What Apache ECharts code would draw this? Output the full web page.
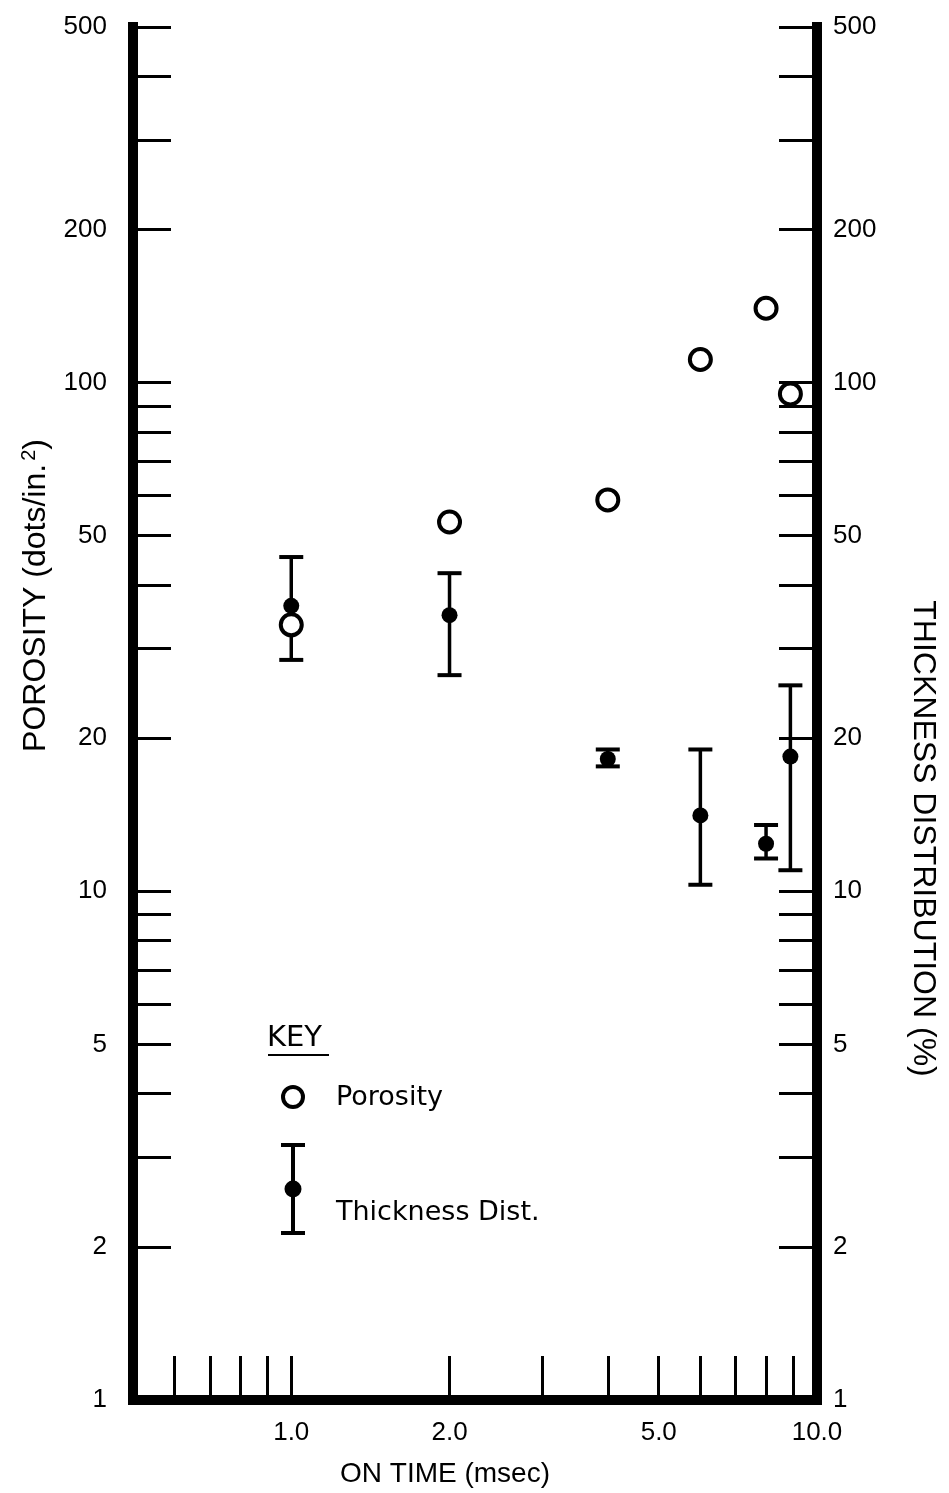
<!DOCTYPE html>
<html>
<head>
<meta charset="utf-8">
<script src="https://cdn.jsdelivr.net/npm/echarts@6.0.0/dist/echarts.min.js"></script>
<style>
  html, body { margin: 0; padding: 0; background: #fff; }
  #main { width: 949px; height: 1493px; }
</style>
</head>
<body>
<div id="main"></div>
<script type="text/javascript">
// values
var onTime = [1.0, 2.0, 4.0, 6.0, 8.0, 8.9];
var porosity = [33.4, 53.2, 58.8, 111, 140, 95];
var thickMean = [36.4, 34.9, 18.2, 14.1, 12.4, 18.4];
var thickLow = [28.5, 26.6, 17.6, 10.3, 11.6, 11.0];
var thickHigh = [45.4, 42.2, 19.0, 19.0, 13.5, 25.4];

// axis ticks and labels
var xTicks = [0.6, 0.7, 0.8, 0.9, 1, 2, 3, 4, 5, 6, 7, 8, 9];
var xLabels = [1, 2, 5, 10];
var yTicks = [2, 3, 4, 5, 6, 7, 8, 9, 10, 20, 30, 40, 50, 60, 70, 80, 90, 100, 200, 300, 400, 500];
var yLabels = [1, 2, 5, 10, 20, 50, 100, 200, 500];

var ink = '#000';
var numFont = 'Liberation Sans';

var myChart = echarts.init(document.getElementById('main'));

function yAxisOpt(pos) {
    return {
        type: 'log',
        logBase: 10,
        min: 1,
        max: 500,
        position: pos,
        splitLine: { show: false },
        axisLine: { show: true, lineStyle: { color: ink, width: 10, cap: 'square' } },
        axisTick: { show: true, inside: true, length: 38, customValues: yTicks, lineStyle: { color: ink, width: 3 } },
        axisLabel: {
            customValues: yLabels,
            margin: pos === 'left' ? 26 : 16,
            color: ink,
            fontFamily: numFont,
            fontSize: 26,
            formatter: function (v) { return String(Math.round(v)); }
        }
    };
}

// left axis: porosity
var left = yAxisOpt('left');
left.name = 'POROSITY (dots/in.{sup|2})';
left.nameLocation = 'middle';
left.nameGap = 80;
left.nameTextStyle = {
    color: ink, fontFamily: numFont, fontSize: 32,
    padding: [0, 0, 0, 236],
    rich: { sup: { fontFamily: numFont, fontSize: 20, verticalAlign: 'top', padding: [0, 0, 14, 3], color: ink } }
};

// right axis: thickness distribution
var right = yAxisOpt('right');
right.name = 'THICKNESS DISTRIBUTION (%)';
right.nameLocation = 'middle';
right.nameRotate = -90;
right.nameGap = 90;
right.nameTextStyle = {
    color: ink, fontFamily: numFont, fontSize: 32,
    padding: [0, 0, 0, 250]
};

var option = {
    backgroundColor: '#fff',
    animation: false,
    grid: { left: 133, right: 132, top: 27, bottom: 93 },
    xAxis: {
        type: 'log',
        logBase: 10,
        min: 0.5,
        max: 10,
        name: 'ON TIME (msec)',
        nameLocation: 'middle',
        nameGap: 60,
        nameTextStyle: { color: ink, fontFamily: numFont, fontSize: 28, padding: [0, 60, 0, 0] },
        splitLine: { show: false },
        axisLine: { show: true, lineStyle: { color: ink, width: 10, cap: 'square' } },
        axisTick: { show: true, inside: true, length: 44, customValues: xTicks, lineStyle: { color: ink, width: 3 } },
        axisLabel: {
            customValues: xLabels,
            margin: 20,
            color: ink,
            fontFamily: numFont,
            fontSize: 26,
            formatter: function (v) { return Number(v).toFixed(1); }
        }
    },
    yAxis: [left, right],
    // the KEY box
    graphic: [
        { type: 'text', left: 267, top: 1024, style: { text: 'KEY', fill: ink, font: '29px "DejaVu Sans"' } },
        { type: 'line', shape: { x1: 268, y1: 1055, x2: 329, y2: 1055 }, style: { stroke: ink, lineWidth: 2 } },
        { type: 'circle', shape: { cx: 293, cy: 1097, r: 10 }, style: { fill: '#fff', stroke: ink, lineWidth: 4 } },
        { type: 'text', left: 336, top: 1084, style: { text: 'Porosity', fill: ink, font: '27px "DejaVu Sans"' } },
        { type: 'line', shape: { x1: 293, y1: 1145, x2: 293, y2: 1233 }, style: { stroke: ink, lineWidth: 4 } },
        { type: 'line', shape: { x1: 281, y1: 1145, x2: 305, y2: 1145 }, style: { stroke: ink, lineWidth: 4 } },
        { type: 'line', shape: { x1: 281, y1: 1233, x2: 305, y2: 1233 }, style: { stroke: ink, lineWidth: 4 } },
        { type: 'circle', shape: { cx: 293, cy: 1189, r: 8.5 }, style: { fill: ink } },
        { type: 'text', left: 336, top: 1199, style: { text: 'Thickness Dist.', fill: ink, font: '27px "DejaVu Sans"' } }
    ],
    series: [
        {
            // error bars
            name: 'Thickness range',
            type: 'custom',
            xAxisIndex: 0,
            yAxisIndex: 1,
            z: 1,
            encode: { x: 0, y: [1, 2] },
            data: onTime.map(function (x, i) { return [x, thickLow[i], thickHigh[i]]; }),
            renderItem: function (params, api) {
                var x = api.value(0);
                var lo = api.coord([x, api.value(1)]);
                var hi = api.coord([x, api.value(2)]);
                var w = 12;
                return {
                    type: 'group',
                    children: [
                        { type: 'line', shape: { x1: lo[0], y1: lo[1], x2: hi[0], y2: hi[1] }, style: { stroke: ink, lineWidth: 3.5 } },
                        { type: 'line', shape: { x1: lo[0] - w, y1: lo[1], x2: lo[0] + w, y2: lo[1] }, style: { stroke: ink, lineWidth: 4 } },
                        { type: 'line', shape: { x1: hi[0] - w, y1: hi[1], x2: hi[0] + w, y2: hi[1] }, style: { stroke: ink, lineWidth: 4 } }
                    ]
                };
            }
        },
        {
            name: 'Porosity',
            type: 'scatter',
            xAxisIndex: 0,
            yAxisIndex: 0,
            z: 2,
            symbol: 'circle',
            symbolSize: 21,
            itemStyle: { color: '#fff', borderColor: ink, borderWidth: 4, opacity: 1 },
            data: onTime.map(function (x, i) { return [x, porosity[i]]; })
        },
        {
            name: 'Thickness Dist.',
            type: 'scatter',
            xAxisIndex: 0,
            yAxisIndex: 1,
            z: 3,
            symbol: 'circle',
            symbolSize: 16,
            itemStyle: { color: ink, opacity: 1 },
            data: onTime.map(function (x, i) { return [x, thickMean[i]]; })
        }
    ]
};
myChart.setOption(option);
</script>
</body>
</html>
